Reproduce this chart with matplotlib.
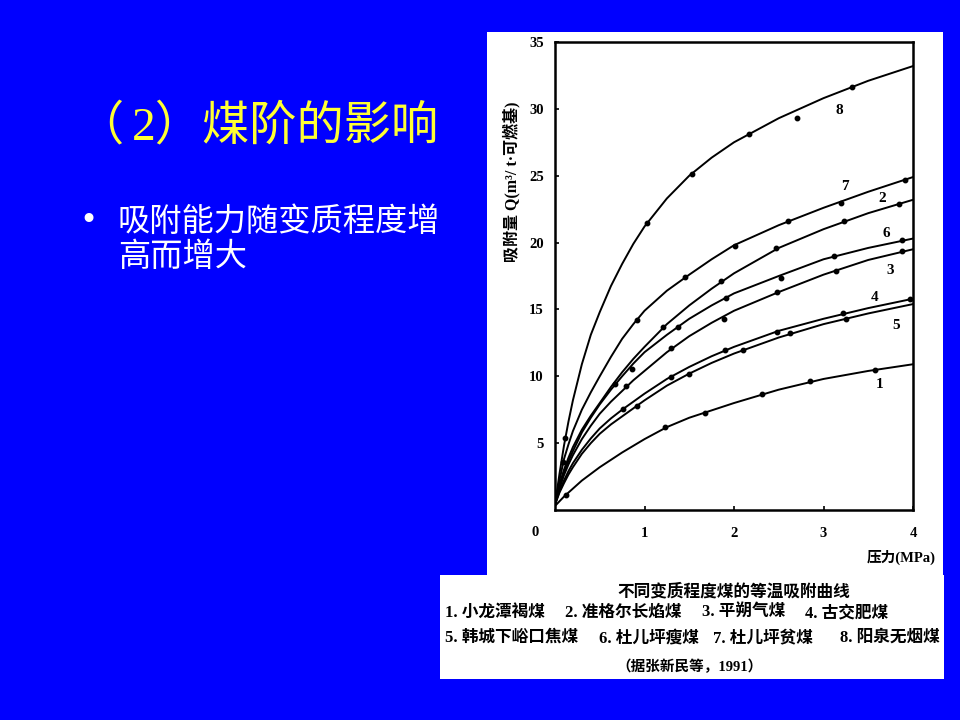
import matplotlib
matplotlib.use('Agg')
import matplotlib.pyplot as plt
from matplotlib.patches import Rectangle

# ---------------- data ----------------
pressure = [0, 0.05, 0.1, 0.15, 0.2, 0.3, 0.4, 0.5, 0.625, 0.75, 0.875, 1.0,
            1.25, 1.5, 1.75, 2.0, 2.5, 3.0, 3.5, 4.0]
curve_1 = [0.3, 0.65, 1.0, 1.3, 1.6, 2.2, 2.7, 3.2, 3.75, 4.3, 4.8, 5.3,
           6.2, 6.9, 7.45, 8.0, 9.0, 9.8, 10.4, 10.9]
curve_2 = [0.4, 1.9, 3.0, 3.9, 4.7, 6.0, 7.05, 8.0, 9.2, 10.3, 11.3, 12.2,
           13.9, 15.3, 16.55, 17.7, 19.6, 21.0, 22.2, 23.2]
curve_3 = [0.4, 1.6, 2.6, 3.4, 4.1, 5.3, 6.3, 7.2, 8.1, 8.9, 9.7, 10.4,
           11.8, 13.0, 14.0, 14.9, 16.3, 17.6, 18.7, 19.5]
curve_4 = [0.4, 1.4, 2.2, 2.9, 3.5, 4.5, 5.35, 6.1, 6.85, 7.5, 8.1, 8.7,
           9.8, 10.7, 11.5, 12.2, 13.4, 14.3, 15.1, 15.8]
curve_5 = [0.4, 1.3, 2.0, 2.65, 3.2, 4.2, 5.0, 5.7, 6.4, 7.0, 7.6, 8.2,
           9.3, 10.2, 11.0, 11.7, 12.9, 13.9, 14.7, 15.4]
curve_6 = [0.4, 1.8, 2.8, 3.65, 4.4, 5.8, 6.9, 7.9, 9.0, 10.0, 10.95, 11.8,
           13.1, 14.3, 15.3, 16.2, 17.5, 18.75, 19.6, 20.3]
curve_7 = [0.4, 2.2, 3.8, 4.9, 5.9, 7.5, 8.8, 10.0, 11.45, 12.8, 13.9, 14.9,
           16.4, 17.6, 18.75, 19.8, 21.3, 22.6, 23.8, 24.9]
curve_8 = [0.4, 2.7, 4.8, 6.6, 8.2, 10.9, 13.1, 14.8, 16.75, 18.4, 19.9, 21.2,
           23.3, 25.0, 26.35, 27.5, 29.3, 30.8, 32.1, 33.2]

# measured points (dots)
pts_1_p = [0.123, 1.226, 1.68, 2.31, 2.85, 3.57]
pts_1_q = [1.12, 6.22, 7.26, 8.71, 9.63, 10.5]
pts_2_p = [0.67, 1.21, 1.851, 2.47, 3.23, 3.847]
pts_2_q = [9.45, 13.68, 17.1, 19.58, 21.59, 22.89]
pts_3_p = [0.793, 1.296, 1.888, 2.484, 3.139, 3.873]
pts_3_q = [9.25, 12.14, 14.25, 16.29, 17.91, 19.4]
pts_4_p = [0.763, 1.30, 1.9, 2.475, 3.22, 3.966]
pts_4_q = [7.59, 9.95, 12.0, 13.3, 14.7, 15.8]
pts_5_p = [0.913, 1.497, 2.1, 2.63, 3.255]
pts_5_q = [7.76, 10.2, 12.0, 13.25, 14.3]
pts_6_p = [0.857, 1.378, 1.907, 2.53, 3.117, 3.873]
pts_6_q = [10.57, 13.68, 15.87, 17.36, 18.96, 20.2]
pts_7_p = [0.093, 0.913, 1.452, 2.011, 2.60, 3.20, 3.91]
pts_7_q = [3.6, 14.23, 17.41, 19.78, 21.59, 22.96, 24.68]
pts_8_p = [0.112, 1.024, 1.53, 2.17, 2.70, 3.32]
pts_8_q = [5.35, 21.44, 25.1, 28.1, 29.3, 31.6]

curve_names = ['1', '2', '3', '4', '5', '6', '7', '8']
x_ticks = [1, 2, 3, 4]
y_ticks = [5, 10, 15, 20, 25, 30, 35]

title_open = '（'
title_rest = '2）煤阶的影响'
bullet_lines = ['吸附能力随变质程度增', '高而增大']
caption_title = '不同变质程度煤的等温吸附曲线'
legend_row1 = ['1. 小龙潭褐煤', '2. 准格尔长焰煤', '3. 平朔气煤', '4. 古交肥煤']
legend_row2 = ['5. 韩城下峪口焦煤', '6. 杜儿坪瘦煤', '7. 杜儿坪贫煤', '8. 阳泉无烟煤']
source = '（据张新民等，1991）'

curves = [curve_1, curve_2, curve_3, curve_4, curve_5, curve_6, curve_7, curve_8]
points = [(pts_1_p, pts_1_q), (pts_2_p, pts_2_q), (pts_3_p, pts_3_q), (pts_4_p, pts_4_q),
          (pts_5_p, pts_5_q), (pts_6_p, pts_6_q), (pts_7_p, pts_7_q), (pts_8_p, pts_8_q)]
# label anchor positions (layout)
label_pos = [(3.63, 9.4), (3.66, 23.3), (3.75, 17.9), (3.57, 15.9),
             (3.81, 13.8), (3.70, 20.7), (3.24, 24.2), (3.18, 29.9)]

# ---------------- figure ----------------
W, H = 960, 720
fig = plt.figure(figsize=(9.6, 7.2), dpi=100)
fig.patch.set_facecolor('#0000FF')

def fx(px):
    return px / W

def fy(py):
    return 1 - py / H

CJK = ['Noto Sans CJK SC', 'DejaVu Sans']
SERIF = ['Liberation Serif', 'Noto Sans CJK SC', 'DejaVu Sans']

# white panels (chart image and caption), drawn beneath the axes
fig.patches.append(Rectangle((fx(487), fy(577)), fx(943) - fx(487), fy(32) - fy(577),
                             transform=fig.transFigure, facecolor='white', edgecolor='none', zorder=-2))
fig.patches.append(Rectangle((fx(440), fy(679)), fx(944) - fx(440), fy(575) - fy(679),
                             transform=fig.transFigure, facecolor='white', edgecolor='none', zorder=-2))

# slide title & bullet text
fig.text(fx(100), fy(127), title_open, color='#FFFF33', fontsize=34, family=SERIF,
         ha='center', va='center')
fig.text(fx(439), fy(127), title_rest, color='#FFFF33', fontsize=34, family=SERIF,
         ha='right', va='center')
fig.text(fx(88), fy(221), '•', color='white', fontsize=22, family=['DejaVu Sans'],
         ha='center', va='center')
fig.text(fx(118), fy(222), bullet_lines[0], color='white', fontsize=23.2, family=CJK,
         ha='left', va='center')
fig.text(fx(118), fy(257), bullet_lines[1], color='white', fontsize=23.2, family=CJK,
         ha='left', va='center')

# ---------------- axes ----------------
ax = fig.add_axes([fx(555), fy(510), fx(913) - fx(555), fy(42) - fy(510)])
ax.set_zorder(1)
ax.set_facecolor('white')
ax.set_xlim(0, 4)
ax.set_ylim(0, 35)
for s in ax.spines.values():
    s.set_linewidth(1.8)
    s.set_color('black')

for c, (pp, qq) in zip(curves, points):
    ax.plot(pressure, c, color='black', lw=1.4, solid_joinstyle='round')
    ax.plot(pp, qq, 'o', color='black', ms=3.2)

for name, (lx, ly) in zip(curve_names, label_pos):
    ax.text(lx, ly, name, fontsize=11, fontweight='bold', family=SERIF,
            ha='center', va='center')

ax.set_xticks(x_ticks)
ax.set_yticks(y_ticks)
ax.set_xticklabels([str(t) for t in x_ticks], family=SERIF, fontsize=10.5, fontweight='bold')
ax.set_yticklabels([str(t) for t in y_ticks], family=SERIF, fontsize=10.5, fontweight='bold')
ax.tick_params(direction='in', length=3, width=1.2, pad=8)
ax.tick_params(axis='x', pad=12)
ax.text(-0.045, -0.035, '0', transform=ax.transAxes, family=SERIF, fontsize=10.5,
        fontweight='bold', ha='right', va='top')

fig.text(fx(936), fy(557), '压力(MPa)', family=SERIF, fontsize=10.5, fontweight='bold',
         ha='right', va='center')
fig.text(fx(512), fy(182), '吸附量 Q(m³/ t·可燃基)', family=SERIF, fontsize=11.5,
         fontweight='bold', rotation=90, ha='center', va='center')

# ---------------- caption ----------------
fig.text(fx(734), fy(591), caption_title, family=CJK, fontsize=12, fontweight='bold',
         ha='center', va='center')
row1_x = [445, 565, 702, 805]
row2_x = [445, 599, 713, 840]
for s, x in zip(legend_row1, row1_x):
    fig.text(fx(x), fy(613), s, family=SERIF, fontsize=12, fontweight='bold',
             ha='left', va='center')
for s, x in zip(legend_row2, row2_x):
    fig.text(fx(x), fy(638), s, family=SERIF, fontsize=12, fontweight='bold',
             ha='left', va='center')
fig.text(fx(690), fy(667), source, family=SERIF, fontsize=10.5, fontweight='bold',
         ha='center', va='center')

fig.savefig('out.png', dpi=100, facecolor=fig.get_facecolor())
